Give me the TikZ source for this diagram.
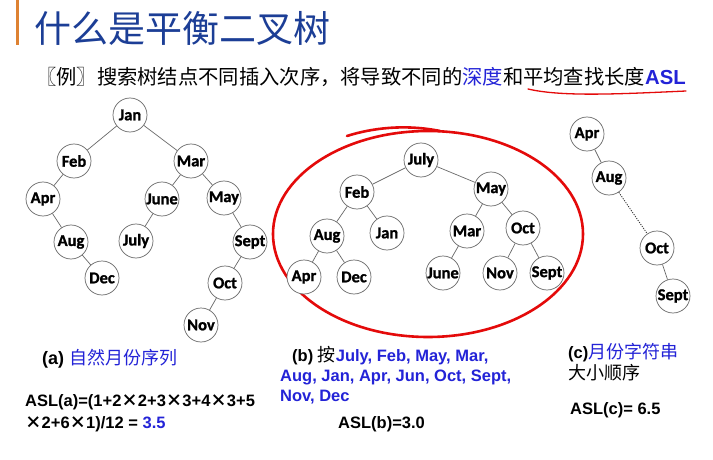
\documentclass[tikz,border=0pt]{standalone}
\usepackage{fontspec}
\setmainfont{Liberation Sans}
\newfontfamily\cjk{Noto Sans CJK SC}
\newfontfamily\calfont{Carlito}[BoldFeatures={FakeBold=1.2}]
\definecolor{titleblue}{RGB}{28,62,150}
\definecolor{txtblue}{RGB}{35,35,215}
\definecolor{barorange}{RGB}{222,130,50}
\definecolor{hred}{RGB}{228,10,10}
\definecolor{lgray}{RGB}{105,105,105}
\newcommand{\X}{{\cjk ×}}
\begin{document}
\begin{tikzpicture}[x=1pt,y=-1pt,
  mnode/.style={circle, draw=lgray, line width=0.7pt, fill=white, minimum size=34pt, inner sep=0pt,
     font=\calfont\bfseries\fontsize{16.5}{16.5}\selectfont},
  link/.style={draw=lgray, line width=0.7pt},
  txt/.style={anchor=base west, inner sep=0pt, font=\fontsize{16.5}{18}\selectfont\bfseries},
  redpen/.style={draw=hred, line cap=round}]
\useasboundingbox (0,0) rectangle (713,460);
\fill[white] (0,0) rectangle (713,460);
% header
\fill[barorange] (16,0) rectangle (18.5,45);
\node[anchor=west, inner sep=0pt, text=titleblue, font=\cjk\fontsize{37}{37}\selectfont] (title) at (34,28) {什么是平衡二叉树};
\node[anchor=west, inner sep=0pt, font=\fontsize{20.3}{20.3}\selectfont] (intro) at (36,77)
  {{\cjk 〖例〗搜索树结点不同插入次序，将导致不同的}{\cjk\color{txtblue}深度}{\cjk 和平均查找长度}{\bfseries\color{txtblue}ASL}};
\draw[redpen, line width=1.3pt] (528,89) .. controls (562,97) and (620,94) .. (686,91);

% tree (a)
\node[mnode] (aJan) at (130,115) {Jan};
\node[mnode] (aFeb) at (74,161) {Feb};
\node[mnode] (aMar) at (191,161) {Mar};
\node[mnode] (aApr) at (43,199) {Apr};
\node[mnode] (aJune) at (162,199) {June};
\node[mnode] (aMay) at (224,198) {May};
\node[mnode] (aAug) at (71,242) {Aug};
\node[mnode] (aJuly) at (136,241) {July};
\node[mnode] (aSept) at (250,242) {Sept};
\node[mnode] (aDec) at (102,278) {Dec};
\node[mnode] (aOct) at (225,283) {Oct};
\node[mnode] (aNov) at (201,325) {Nov};
\foreach \p/\c in {aJan/aFeb,aJan/aMar,aFeb/aApr,aApr/aAug,aAug/aDec,aMar/aJune,aMar/aMay,aJune/aJuly,aMay/aSept,aSept/aOct,aOct/aNov}
  \draw[link] (\p) -- (\c);

% tree (b)
\draw[redpen, line width=2.6pt] (428,234) ellipse [x radius=155pt, y radius=103pt];
\draw[redpen, line width=2.6pt] (347,136) .. controls (372,128) and (405,124) .. (440,131);
\node[mnode] (bJuly) at (421,160) {July};
\node[mnode] (bFeb) at (357,192) {Feb};
\node[mnode] (bMay) at (491,189) {May};
\node[mnode] (bAug) at (327,236) {Aug};
\node[mnode] (bJan) at (387,233) {Jan};
\node[mnode] (bMar) at (467,231) {Mar};
\node[mnode] (bOct) at (523,228) {Oct};
\node[mnode] (bApr) at (304,277) {Apr};
\node[mnode] (bDec) at (354,277) {Dec};
\node[mnode] (bJune) at (443,273) {June};
\node[mnode] (bNov) at (500,273) {Nov};
\node[mnode] (bSept) at (547,273) {Sept};
\foreach \p/\c in {bJuly/bFeb,bJuly/bMay,bFeb/bAug,bFeb/bJan,bAug/bApr,bAug/bDec,bMay/bMar,bMay/bOct,bMar/bJune,bOct/bNov,bOct/bSept}
  \draw[link] (\p) -- (\c);

% tree (c)
\node[mnode] (cApr) at (587,134) {Apr};
\node[mnode] (cAug) at (609,178) {Aug};
\node[mnode] (cOct) at (657,248) {Oct};
\node[mnode] (cSept) at (673,296) {Sept};
\draw[link] (cApr) -- (cAug);
\draw[draw=black!80, line width=0.8pt, dash pattern=on 1.2pt off 1.2pt] (cAug) -- (cOct);
\draw[link] (cOct) -- (cSept);

% captions
\node[txt, font=\fontsize{18}{18}\selectfont] (capa) at (42,364) {{\bfseries (a)} {\cjk\color{txtblue}自然月份序列}};
\node[txt] (asla1) at (25,406) {ASL(a)=(1+2\X2+3\X3+4\X3+5};
\node[txt] (asla2) at (25,428) {\X2+6\X1)/12 = {\color{txtblue}3.5}};

\node[txt] (capb1) at (292,361) {(b) {\mdseries\cjk\fontsize{18}{18}\selectfont 按}{\color{txtblue}July, Feb, May, Mar,}};
\node[txt, text=txtblue] (capb2) at (280,381) {Aug, Jan, Apr, Jun, Oct, Sept,};
\node[txt, text=txtblue] (capb3) at (280,401) {Nov, Dec};
\node[txt] (aslb) at (338,428) {ASL(b)=3.0};

\node[txt] (capc1) at (568,358) {(c){\mdseries\cjk\fontsize{18}{18}\selectfont\color{txtblue}月份字符串}};
\node[txt, font=\cjk\fontsize{18}{18}\selectfont] (capc2) at (568,379) {大小顺序};
\node[txt] (aslc) at (570,414) {ASL(c)= 6.5};
\end{tikzpicture}
\end{document}
